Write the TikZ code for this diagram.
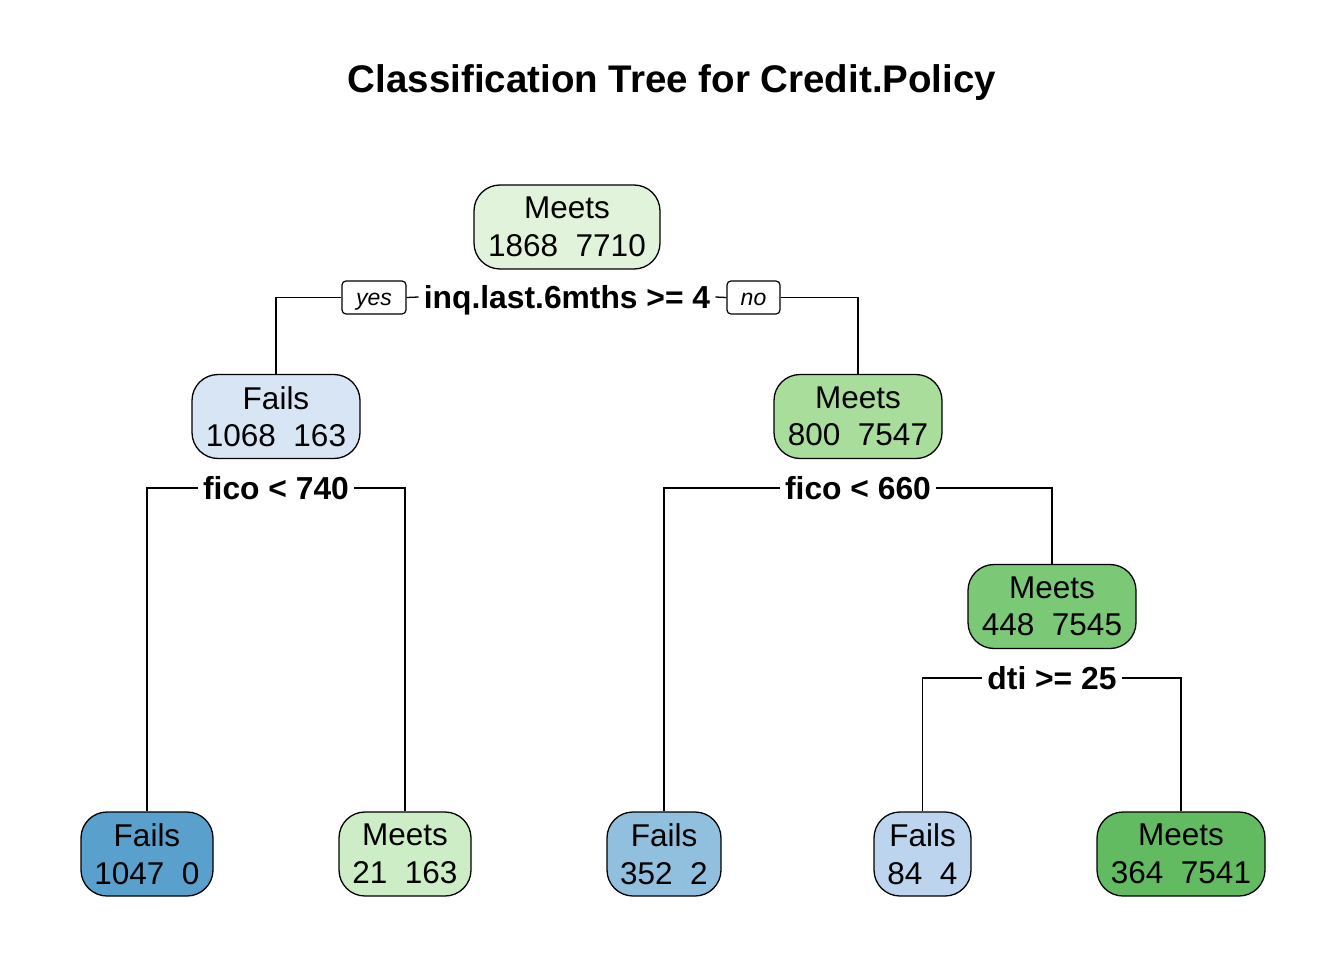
\documentclass[tikz,border=0pt]{standalone}
\usepackage{fontspec}
\setmainfont{Liberation Sans}
\definecolor{cRoot}{HTML}{E1F3DB}
\definecolor{cLeft}{HTML}{D7E5F4}
\definecolor{cRight}{HTML}{A8DD9B}
\definecolor{cMid}{HTML}{7BC876}
\definecolor{cLa}{HTML}{5AA0CD}
\definecolor{cLb}{HTML}{CDEDC6}
\definecolor{cLc}{HTML}{91C0DE}
\definecolor{cLd}{HTML}{BCD4EE}
\definecolor{cLe}{HTML}{62BB60}
\begin{document}
\begin{tikzpicture}[x=1pt,y=-1pt,
  tn/.style={draw=black, line width=1.3pt, rounded corners=26pt, minimum height=84pt,
    inner sep=0pt, align=center, font=\fontsize{31.5}{37.5}\selectfont},
  sp/.style={font=\bfseries\fontsize{31.8}{37}\selectfont, inner sep=5pt, text height=23pt, text depth=0pt},
  yn/.style={draw=black, line width=1.2pt, rounded corners=4pt, font=\itshape\fontsize{23}{28}\selectfont,
    minimum height=33pt, inner sep=0pt, text height=16pt, text depth=0pt},
  ed/.style={line width=1.3pt}]
\useasboundingbox (0,0) rectangle (1344,960);
\node[font=\bfseries\fontsize{38.5}{46}\selectfont, anchor=base] (title) at (672,93) {Classification Tree for Credit.Policy};

% internal nodes
\node[tn, fill=cRoot, minimum width=186pt] (n1) at (567,227) {Meets\\1868\ \ 7710};
\node[tn, fill=cLeft, minimum width=168pt] (n2) at (276,416.5) {Fails\\1068\ \ 163};
\node[tn, fill=cRight, minimum width=168pt] (n3) at (858,416.5) {Meets\\800\ \ 7547};
\node[tn, fill=cMid, minimum width=168pt] (n7) at (1052,606.5) {Meets\\448\ \ 7545};

% leaves
\node[tn, fill=cLa, minimum width=132pt] (l1) at (147,854) {Fails\\1047\ \ 0};
\node[tn, fill=cLb, minimum width=132pt] (l2) at (405,854) {Meets\\21\ \ 163};
\node[tn, fill=cLc, minimum width=114pt] (l3) at (664,854) {Fails\\352\ \ 2};
\node[tn, fill=cLd, minimum width=97pt] (l4) at (922.5,854) {Fails\\84\ \ 4};
\node[tn, fill=cLe, minimum width=168pt] (l5) at (1181,854) {Meets\\364\ \ 7541};

% split labels
\node[sp] (s1) at (567,297) {inq.last.6mths >= 4};
\node[yn, minimum width=64pt] (yes) at (374,297.5) {yes};
\node[yn, minimum width=53pt] (no) at (753.5,297.5) {no};
\node[sp] (s2) at (276,488) {fico < 740};
\node[sp] (s3) at (858,488) {fico < 660};
\node[sp] (s4) at (1052,678) {dti >= 25};

% connectors
\draw[ed] (yes.west) -| (n2.north);
\draw[ed] (yes.east) -- (s1.west);
\draw[ed] (s1.east) -- (no.west);
\draw[ed] (no.east) -| (n3.north);
\draw[ed] (s2.west) -| (l1.north);
\draw[ed] (s2.east) -| (l2.north);
\draw[ed] (s3.west) -| (l3.north);
\draw[ed] (s3.east) -| (n7.north);
\draw[ed] (s4.west) -| (l4.north);
\draw[ed] (s4.east) -| (l5.north);
\end{tikzpicture}
\end{document}
